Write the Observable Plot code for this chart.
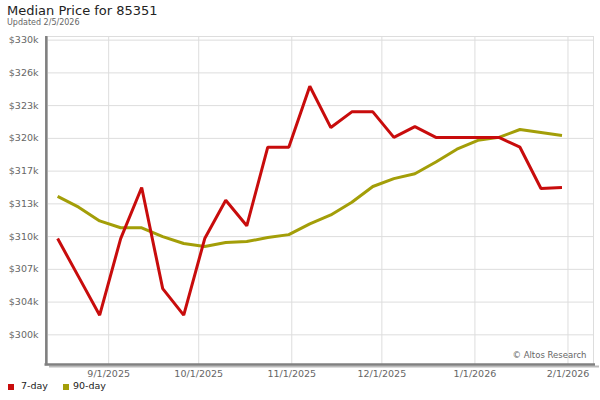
<!DOCTYPE html>
<html>
<head>
<meta charset="utf-8">
<script src="https://cdn.jsdelivr.net/npm/d3@7"></script>
<script src="https://cdn.jsdelivr.net/npm/@observablehq/plot@0.6"></script>
<style>
  body { margin: 0; background: #fff; font-family: "DejaVu Sans", sans-serif; }
  #wrap { position: relative; width: 600px; height: 400px; overflow: hidden; }
  #title { position: absolute; left: 7px; top: 3px; font-size: 13px; color: #222; white-space: nowrap; }
  #sub { position: absolute; left: 7px; top: 18px; font-size: 8px; color: #666; white-space: nowrap; }
  #chart { position: absolute; left: 0; top: 30px; }
  #legend { position: absolute; left: 8px; top: 380px; font-size: 9.5px; color: #222; white-space: nowrap; }
  .item { position: absolute; top: 0; white-space: nowrap; }
  .sw { position: absolute; top: 3.7px; width: 6px; height: 6px; }
  .lab { position: absolute; top: 0; }
</style>
</head>
<body>
<div id="wrap">
  <div id="title">Median Price for 85351</div>
  <div id="sub">Updated 2/5/2026</div>
  <div id="chart"></div>
  <div id="legend"></div>
</div>
<script>
const dates = ["2025-08-15","2025-08-22","2025-08-29","2025-09-05","2025-09-12","2025-09-19","2025-09-26",
  "2025-10-03","2025-10-10","2025-10-17","2025-10-24","2025-10-31","2025-11-07","2025-11-14","2025-11-21",
  "2025-11-28","2025-12-05","2025-12-12","2025-12-19","2025-12-26","2026-01-02","2026-01-09","2026-01-16",
  "2026-01-23","2026-01-30"];
const sevenDay = [309800, 305900, 302000, 309800, 315000, 304700, 302000, 309800, 313700, 311100, 319100, 319100,
  325300, 321100, 322700, 322700, 320100, 321200, 320100, 320100, 320100, 320100, 319100, 314900, 315000];
const ninetyDay = [314100, 313000, 311600, 310900, 310900, 310000, 309300, 309000, 309400, 309500, 309900, 310200,
  311300, 312200, 313500, 315100, 315900, 316400, 317600, 318900, 319800, 320100, 320900, 320600, 320300];
const seriesNames = ["7-day", "90-day"];
const seriesColors = ["#c80c0c", "#a39e08"];
const yTickValues = [300000, 303333.33, 306666.67, 310000, 313333.33, 316666.67, 320000, 323333.33, 326666.67, 330000];
const yTickLabels = ["$300k", "$304k", "$307k", "$310k", "$313k", "$317k", "$320k", "$323k", "$326k", "$330k"];
const xDomain = [new Date("2025-08-11T15:00:00Z"), new Date("2026-02-09T12:00:00Z")];
const yDomain = [296980, 330370];
const caption = "© Altos Research";

const rows = [];
dates.forEach((d, i) => {
  rows.push({date: new Date(d + "T00:00:00Z"), value: ninetyDay[i], series: seriesNames[1]});
});
dates.forEach((d, i) => {
  rows.push({date: new Date(d + "T00:00:00Z"), value: sevenDay[i], series: seriesNames[0]});
});
const labelMap = new Map(yTickValues.map((v, i) => [v, yTickLabels[i]]));

const chart = Plot.plot({
  width: 600,
  height: 352,
  marginTop: 6,
  marginBottom: 18,
  marginLeft: 47,
  marginRight: 7,
  style: {fontFamily: "DejaVu Sans, sans-serif", fontSize: "9.5px", background: "transparent"},
  x: {type: "utc", domain: xDomain, label: null},
  y: {domain: yDomain, label: null},
  color: {domain: seriesNames, range: seriesColors},
  marks: [
    Plot.frame({stroke: "#dddddd", strokeWidth: 1}),
    Plot.gridY(yTickValues, {stroke: "#dddddd", strokeOpacity: 1, strokeWidth: 1}),
    Plot.gridX(d3.utcMonth.range(xDomain[0], xDomain[1]).filter(d => d > xDomain[0]), {stroke: "#dddddd", strokeOpacity: 1, strokeWidth: 1}),
    Plot.axisY(yTickValues, {label: null, tickSize: 0, tickPadding: 9, tickFormat: v => labelMap.get(v), fill: "#666", fontSize: 9.5}),
    Plot.axisX(d3.utcMonth.range(xDomain[0], xDomain[1]), {label: null, tickSize: 0, tickPadding: 6, tickFormat: d3.utcFormat("%-m/%-d/%Y"), fill: "#666", fontSize: 9.5}),
    Plot.text([caption], {frameAnchor: "bottom-right", dx: -7, dy: -7, fill: "#666", fontSize: 8.5, textAnchor: "end"}),
    Plot.line(rows, {x: "date", y: "value", z: "series", stroke: "series", strokeWidth: 3, strokeLinejoin: "miter", strokeLinecap: "butt"}),
    Plot.ruleY([yDomain[0]], {stroke: "#bbbbbb", strokeWidth: 2, dy: 2, dx: 2, insetRight: -4}),
    Plot.ruleY([yDomain[0]], {stroke: "#808080", strokeWidth: 2.5, insetLeft: -2.5, insetRight: -2}),
    Plot.ruleX([xDomain[0]], {stroke: "#808080", strokeWidth: 2.5, dx: -1.2, insetBottom: -1.2})
  ]
});
document.getElementById("chart").appendChild(chart);

const legend = document.getElementById("legend");
const legendX = [0, 55];
const labelOffset = [13, 10];
seriesNames.forEach((name, i) => {
  const item = document.createElement("div");
  item.className = "item";
  item.style.left = legendX[i] + "px";
  const sw = document.createElement("div");
  sw.className = "sw";
  sw.style.left = "0px";
  sw.style.background = seriesColors[i];
  const lab = document.createElement("div");
  lab.className = "lab";
  lab.style.left = labelOffset[i] + "px";
  lab.textContent = name;
  item.appendChild(sw);
  item.appendChild(lab);
  legend.appendChild(item);
});
</script>
</body>
</html>
